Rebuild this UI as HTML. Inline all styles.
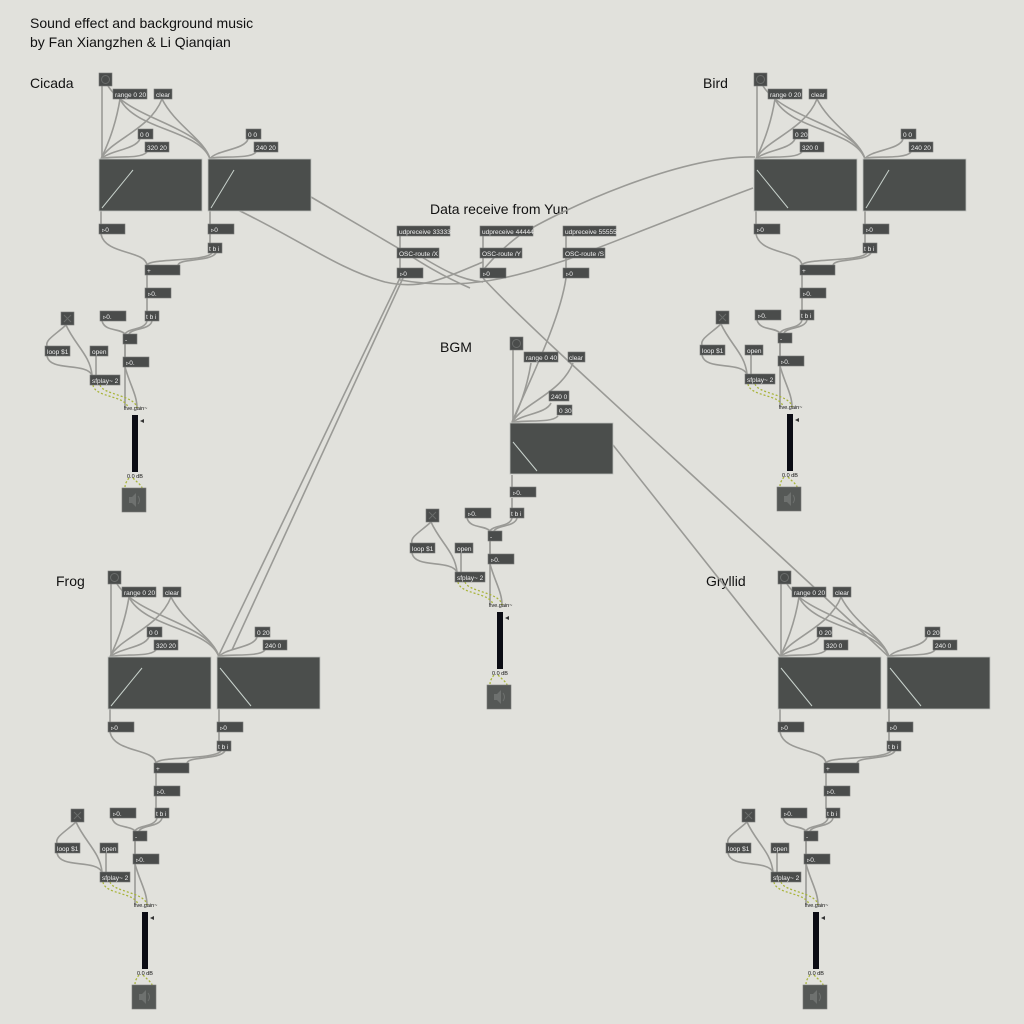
<!DOCTYPE html>
<html><head><meta charset="utf-8"><style>
html,body{margin:0;padding:0;background:#e1e1dc;}
svg{display:block}
.b{fill:#4a4c4b;stroke:#7a7c7b;stroke-width:.6}
.s{fill:#4b4e4c;stroke:#bfc1bd;stroke-width:.8}
.t{font-family:"Liberation Sans",sans-serif;font-size:6.5px;fill:#f0f0f0}
.sm{font-family:"Liberation Sans",sans-serif;font-size:5.5px;fill:#111}
.lab{font-family:"Liberation Sans",sans-serif;font-size:14px;fill:#111}
.c{fill:none;stroke:#9a9a96;stroke-width:1.6}
.d{fill:none;stroke:#a8b43a;stroke-width:1.3;stroke-dasharray:2 2}
.sl{stroke:#c8d2cc;stroke-width:1}
</style></head><body>
<svg width="1024" height="1024" viewBox="0 0 1024 1024" xmlns="http://www.w3.org/2000/svg">
<defs>
<g id="up1">
<path class="c" d="M102 86 V159"/>
<path class="c" d="M120 99 C115 130 105 150 101 159"/>
<path class="c" d="M162 99 C150 130 110 140 101 159"/>
<path class="c" d="M140 139 C135 150 110 150 101 159"/>
<path class="c" d="M147 152 C140 160 110 155 101 159"/>
<path class="c" d="M101 211 V224"/>
</g>
<g id="up2">
<path class="c" d="M108 86 C130 120 200 125 210 159"/>
<path class="c" d="M120 99 C135 130 200 130 210 159"/>
<path class="c" d="M162 99 C175 125 205 140 210 159"/>
<path class="c" d="M248 139 C245 150 215 150 210 159"/>
<path class="c" d="M256 152 C250 160 215 155 210 159"/>
<path class="c" d="M210 211 V243"/>
<path class="c" d="M101 234 C105 255 145 250 147 265"/>
<path class="c" d="M212 253 C205 262 150 258 147 265"/>
<path class="c" d="M216 253 C210 262 180 258 178 265"/>
<path class="c" d="M147 275 V311"/>
</g>
<g id="lo">
<path class="c" d="M147 321 C145 330 128 328 125 334"/>
<path class="c" d="M152 321 C150 330 132 328 129 334"/>
<path class="c" d="M102 321 C105 332 120 328 125 334"/>
<path class="c" d="M125 344 V357"/>
<path class="c" d="M125 344 V408"/>
<path class="c" d="M125 367 C130 385 137 395 137 408"/>
<path class="c" d="M66 325 C55 335 45 340 47 346"/>
<path class="c" d="M66 325 C75 345 90 355 92 375"/>
<path class="c" d="M47 356 C50 372 85 362 92 375"/>
<path class="c" d="M96 356 V375"/>
<path class="d" d="M93 385 C95 398 126 395 128 408"/>
<path class="d" d="M100 385 C103 395 135 395 137 408"/>
<path class="d" d="M129 478 C125 483 125 486 125 488"/>
<path class="d" d="M133 478 C138 483 142 486 142 488"/>
</g>
</defs>

<text class="lab" x="30" y="28">Sound effect and background music</text>
<text class="lab" x="30" y="47">by Fan Xiangzhen &amp; Li Qianqian</text>
<text class="lab" x="30" y="88">Cicada</text>
<text class="lab" x="703" y="88">Bird</text>
<text class="lab" x="56" y="586">Frog</text>
<text class="lab" x="706" y="586">Gryllid</text>
<text class="lab" x="440" y="352">BGM</text>
<text class="lab" x="430" y="214">Data receive from Yun</text>

<use href="#up1"/><use href="#up2"/><use href="#lo"/>
<use href="#up1" transform="translate(655,0)"/><use href="#up2" transform="translate(655,0)"/><use href="#lo" transform="translate(655,-1)"/>
<use href="#up1" transform="translate(9,498)"/><use href="#up2" transform="translate(9,498)"/><use href="#lo" transform="translate(10,497)"/>
<use href="#up1" transform="translate(679,498)"/><use href="#up2" transform="translate(679,498)"/><use href="#lo" transform="translate(681,497)"/>
<use href="#up1" transform="translate(411,264)"/><use href="#lo" transform="translate(365,197)"/>
<path class="c" d="M512 498 V508"/>

<path class="c" d="M400 236 V248 M483 236 V248 M566 236 V248 M400 258 V268 M483 258 V268 M566 258 V268"/>
<path class="c" d="M311 197 L398 248 C420 262 440 275 470 288"/>
<path class="c" d="M238 210 C300 240 340 270 385 282 C420 290 440 280 483 262"/>
<path class="c" d="M755 157 C680 155 560 210 520 235 C500 250 490 262 483 270"/>
<path class="c" d="M753 188 C680 215 620 240 566 260 C520 275 470 292 400 280"/>
<path class="c" d="M420 256 C440 268 460 280 483 282"/>
<path class="c" d="M400 278 L218 657"/>
<path class="c" d="M403 278 L232 650"/>
<path class="c" d="M483 278 C530 330 700 480 889 657"/>
<path class="c" d="M613 445 L781 657"/>
<path class="c" d="M566 278 C560 320 530 380 512 422"/>

<rect class="b" x="397" y="226" width="53" height="10"/><text class="t" x="399" y="234">udpreceive 33333</text>
<rect class="b" x="480" y="226" width="53" height="10"/><text class="t" x="482" y="234">udpreceive 44444</text>
<rect class="b" x="563" y="226" width="53" height="10"/><text class="t" x="565" y="234">udpreceive 55555</text>
<rect class="b" x="397" y="248" width="42" height="10"/><text class="t" x="399" y="256">OSC-route /X</text>
<rect class="b" x="480" y="248" width="42" height="10"/><text class="t" x="482" y="256">OSC-route /Y</text>
<rect class="b" x="563" y="248" width="42" height="10"/><text class="t" x="565" y="256">OSC-route /S</text>
<rect class="b" x="397" y="268" width="26" height="10"/><text class="t" x="400" y="276">▹0</text>
<rect class="b" x="480" y="268" width="26" height="10"/><text class="t" x="483" y="276">▹0</text>
<rect class="b" x="563" y="268" width="26" height="10"/><text class="t" x="566" y="276">▹0</text>

<g>
<rect class="b" x="99" y="73" width="13" height="13"/><circle cx="105.5" cy="79.5" r="4" fill="none" stroke="#6a6c6b"/>
<rect class="b" x="113" y="89" width="34" height="10"/><text class="t" x="115" y="97">range 0 20</text>
<rect class="b" x="154" y="89" width="18" height="10"/><text class="t" x="156" y="97">clear</text>
<rect class="b" x="138" y="129" width="15" height="10"/><text class="t" x="140" y="137">0 0</text>
<rect class="b" x="145" y="142" width="24" height="10"/><text class="t" x="147" y="150">320 20</text>
<rect class="b" x="246" y="129" width="15" height="10"/><text class="t" x="248" y="137">0 0</text>
<rect class="b" x="254" y="142" width="24" height="10"/><text class="t" x="256" y="150">240 20</text>
<rect class="s" x="99" y="159" width="103" height="52"/><rect class="s" x="208" y="159" width="103" height="52"/>
<line class="sl" x1="102" y1="208" x2="133" y2="170"/><line class="sl" x1="211" y1="208" x2="234" y2="170"/>
<rect class="b" x="99" y="224" width="26" height="10"/><text class="t" x="102" y="232">▹0</text>
<rect class="b" x="208" y="224" width="26" height="10"/><text class="t" x="211" y="232">▹0</text>
<rect class="b" x="208" y="243" width="14" height="10"/><text class="t" x="209" y="251">t b i</text>
<rect class="b" x="145" y="265" width="35" height="10"/><text class="t" x="147" y="273">+</text>
<rect class="b" x="145" y="288" width="26" height="10"/><text class="t" x="148" y="296">▹0.</text>
</g>
<g transform="translate(655,0)">
<rect class="b" x="99" y="73" width="13" height="13"/><circle cx="105.5" cy="79.5" r="4" fill="none" stroke="#6a6c6b"/>
<rect class="b" x="113" y="89" width="34" height="10"/><text class="t" x="115" y="97">range 0 20</text>
<rect class="b" x="154" y="89" width="18" height="10"/><text class="t" x="156" y="97">clear</text>
<rect class="b" x="138" y="129" width="15" height="10"/><text class="t" x="140" y="137">0 20</text>
<rect class="b" x="145" y="142" width="24" height="10"/><text class="t" x="147" y="150">320 0</text>
<rect class="b" x="246" y="129" width="15" height="10"/><text class="t" x="248" y="137">0 0</text>
<rect class="b" x="254" y="142" width="24" height="10"/><text class="t" x="256" y="150">240 20</text>
<rect class="s" x="99" y="159" width="103" height="52"/><rect class="s" x="208" y="159" width="103" height="52"/>
<line class="sl" x1="102" y1="170" x2="133" y2="208"/><line class="sl" x1="211" y1="208" x2="234" y2="170"/>
<rect class="b" x="99" y="224" width="26" height="10"/><text class="t" x="102" y="232">▹0</text>
<rect class="b" x="208" y="224" width="26" height="10"/><text class="t" x="211" y="232">▹0</text>
<rect class="b" x="208" y="243" width="14" height="10"/><text class="t" x="209" y="251">t b i</text>
<rect class="b" x="145" y="265" width="35" height="10"/><text class="t" x="147" y="273">+</text>
<rect class="b" x="145" y="288" width="26" height="10"/><text class="t" x="148" y="296">▹0.</text>
</g>
<g transform="translate(9,498)">
<rect class="b" x="99" y="73" width="13" height="13"/><circle cx="105.5" cy="79.5" r="4" fill="none" stroke="#6a6c6b"/>
<rect class="b" x="113" y="89" width="34" height="10"/><text class="t" x="115" y="97">range 0 20</text>
<rect class="b" x="154" y="89" width="18" height="10"/><text class="t" x="156" y="97">clear</text>
<rect class="b" x="138" y="129" width="15" height="10"/><text class="t" x="140" y="137">0 0</text>
<rect class="b" x="145" y="142" width="24" height="10"/><text class="t" x="147" y="150">320 20</text>
<rect class="b" x="246" y="129" width="15" height="10"/><text class="t" x="248" y="137">0 20</text>
<rect class="b" x="254" y="142" width="24" height="10"/><text class="t" x="256" y="150">240 0</text>
<rect class="s" x="99" y="159" width="103" height="52"/><rect class="s" x="208" y="159" width="103" height="52"/>
<line class="sl" x1="102" y1="208" x2="133" y2="170"/><line class="sl" x1="211" y1="170" x2="242" y2="208"/>
<rect class="b" x="99" y="224" width="26" height="10"/><text class="t" x="102" y="232">▹0</text>
<rect class="b" x="208" y="224" width="26" height="10"/><text class="t" x="211" y="232">▹0</text>
<rect class="b" x="208" y="243" width="14" height="10"/><text class="t" x="209" y="251">t b i</text>
<rect class="b" x="145" y="265" width="35" height="10"/><text class="t" x="147" y="273">+</text>
<rect class="b" x="145" y="288" width="26" height="10"/><text class="t" x="148" y="296">▹0.</text>
</g>
<g transform="translate(679,498)">
<rect class="b" x="99" y="73" width="13" height="13"/><circle cx="105.5" cy="79.5" r="4" fill="none" stroke="#6a6c6b"/>
<rect class="b" x="113" y="89" width="34" height="10"/><text class="t" x="115" y="97">range 0 20</text>
<rect class="b" x="154" y="89" width="18" height="10"/><text class="t" x="156" y="97">clear</text>
<rect class="b" x="138" y="129" width="15" height="10"/><text class="t" x="140" y="137">0 20</text>
<rect class="b" x="145" y="142" width="24" height="10"/><text class="t" x="147" y="150">320 0</text>
<rect class="b" x="246" y="129" width="15" height="10"/><text class="t" x="248" y="137">0 20</text>
<rect class="b" x="254" y="142" width="24" height="10"/><text class="t" x="256" y="150">240 0</text>
<rect class="s" x="99" y="159" width="103" height="52"/><rect class="s" x="208" y="159" width="103" height="52"/>
<line class="sl" x1="102" y1="170" x2="133" y2="208"/><line class="sl" x1="211" y1="170" x2="242" y2="208"/>
<rect class="b" x="99" y="224" width="26" height="10"/><text class="t" x="102" y="232">▹0</text>
<rect class="b" x="208" y="224" width="26" height="10"/><text class="t" x="211" y="232">▹0</text>
<rect class="b" x="208" y="243" width="14" height="10"/><text class="t" x="209" y="251">t b i</text>
<rect class="b" x="145" y="265" width="35" height="10"/><text class="t" x="147" y="273">+</text>
<rect class="b" x="145" y="288" width="26" height="10"/><text class="t" x="148" y="296">▹0.</text>
</g>
<g transform="translate(411,264)">
<rect class="b" x="99" y="73" width="13" height="13"/><circle cx="105.5" cy="79.5" r="4" fill="none" stroke="#6a6c6b"/>
<rect class="b" x="113" y="88" width="34" height="10"/><text class="t" x="115" y="96">range 0 40</text>
<rect class="b" x="157" y="88" width="17" height="10"/><text class="t" x="158" y="96">clear</text>
<rect class="b" x="138" y="127" width="20" height="10"/><text class="t" x="140" y="135">240 0</text>
<rect class="b" x="146" y="141" width="15" height="10"/><text class="t" x="148" y="149">0 30</text>
<rect class="s" x="99" y="159" width="103" height="51"/>
<line class="sl" x1="102" y1="178" x2="126" y2="207"/>
<rect class="b" x="99" y="223" width="26" height="10"/><text class="t" x="102" y="231">▹0.</text>
</g>

<g>
<rect class="b" x="145" y="311" width="14" height="10"/><text class="t" x="146" y="319">t b i</text>
<rect class="b" x="61" y="312" width="13" height="13"/><path d="M64 315 L71 322 M71 315 L64 322" stroke="#6a6c6b"/>
<rect class="b" x="100" y="311" width="26" height="10"/><text class="t" x="103" y="319">▹0.</text>
<rect class="b" x="123" y="334" width="14" height="10"/><text class="t" x="125" y="342">-</text>
<rect class="b" x="123" y="357" width="26" height="10"/><text class="t" x="126" y="365">▹0.</text>
<rect class="b" x="45" y="346" width="25" height="10"/><text class="t" x="47" y="354">loop $1</text>
<rect class="b" x="90" y="346" width="18" height="10"/><text class="t" x="92" y="354">open</text>
<rect class="b" x="90" y="375" width="30" height="10"/><text class="t" x="92" y="383">sfplay~ 2</text>
<text class="sm" x="124" y="410">live.gain~</text>
<rect x="132" y="415" width="6" height="57" fill="#0b0c14"/>
<path d="M140 421 l4 -2 v4z" fill="#333"/>
<text class="sm" x="127" y="478">0.0 dB</text>
<rect x="122" y="488" width="24" height="24" fill="#555856" stroke="#7a7c7b" stroke-width=".6"/>
<path d="M129 497 h3 l4 -4 v14 l-4 -4 h-3z" fill="#6e716f"/><path d="M138 496 q3 4 0 8" stroke="#6e716f" fill="none"/>
</g>
<g transform="translate(655,-1)">
<rect class="b" x="145" y="311" width="14" height="10"/><text class="t" x="146" y="319">t b i</text>
<rect class="b" x="61" y="312" width="13" height="13"/><path d="M64 315 L71 322 M71 315 L64 322" stroke="#6a6c6b"/>
<rect class="b" x="100" y="311" width="26" height="10"/><text class="t" x="103" y="319">▹0.</text>
<rect class="b" x="123" y="334" width="14" height="10"/><text class="t" x="125" y="342">-</text>
<rect class="b" x="123" y="357" width="26" height="10"/><text class="t" x="126" y="365">▹0.</text>
<rect class="b" x="45" y="346" width="25" height="10"/><text class="t" x="47" y="354">loop $1</text>
<rect class="b" x="90" y="346" width="18" height="10"/><text class="t" x="92" y="354">open</text>
<rect class="b" x="90" y="375" width="30" height="10"/><text class="t" x="92" y="383">sfplay~ 2</text>
<text class="sm" x="124" y="410">live.gain~</text>
<rect x="132" y="415" width="6" height="57" fill="#0b0c14"/>
<path d="M140 421 l4 -2 v4z" fill="#333"/>
<text class="sm" x="127" y="478">0.0 dB</text>
<rect x="122" y="488" width="24" height="24" fill="#555856" stroke="#7a7c7b" stroke-width=".6"/>
<path d="M129 497 h3 l4 -4 v14 l-4 -4 h-3z" fill="#6e716f"/><path d="M138 496 q3 4 0 8" stroke="#6e716f" fill="none"/>
</g>
<g transform="translate(10,497)">
<rect class="b" x="145" y="311" width="14" height="10"/><text class="t" x="146" y="319">t b i</text>
<rect class="b" x="61" y="312" width="13" height="13"/><path d="M64 315 L71 322 M71 315 L64 322" stroke="#6a6c6b"/>
<rect class="b" x="100" y="311" width="26" height="10"/><text class="t" x="103" y="319">▹0.</text>
<rect class="b" x="123" y="334" width="14" height="10"/><text class="t" x="125" y="342">-</text>
<rect class="b" x="123" y="357" width="26" height="10"/><text class="t" x="126" y="365">▹0.</text>
<rect class="b" x="45" y="346" width="25" height="10"/><text class="t" x="47" y="354">loop $1</text>
<rect class="b" x="90" y="346" width="18" height="10"/><text class="t" x="92" y="354">open</text>
<rect class="b" x="90" y="375" width="30" height="10"/><text class="t" x="92" y="383">sfplay~ 2</text>
<text class="sm" x="124" y="410">live.gain~</text>
<rect x="132" y="415" width="6" height="57" fill="#0b0c14"/>
<path d="M140 421 l4 -2 v4z" fill="#333"/>
<text class="sm" x="127" y="478">0.0 dB</text>
<rect x="122" y="488" width="24" height="24" fill="#555856" stroke="#7a7c7b" stroke-width=".6"/>
<path d="M129 497 h3 l4 -4 v14 l-4 -4 h-3z" fill="#6e716f"/><path d="M138 496 q3 4 0 8" stroke="#6e716f" fill="none"/>
</g>
<g transform="translate(681,497)">
<rect class="b" x="145" y="311" width="14" height="10"/><text class="t" x="146" y="319">t b i</text>
<rect class="b" x="61" y="312" width="13" height="13"/><path d="M64 315 L71 322 M71 315 L64 322" stroke="#6a6c6b"/>
<rect class="b" x="100" y="311" width="26" height="10"/><text class="t" x="103" y="319">▹0.</text>
<rect class="b" x="123" y="334" width="14" height="10"/><text class="t" x="125" y="342">-</text>
<rect class="b" x="123" y="357" width="26" height="10"/><text class="t" x="126" y="365">▹0.</text>
<rect class="b" x="45" y="346" width="25" height="10"/><text class="t" x="47" y="354">loop $1</text>
<rect class="b" x="90" y="346" width="18" height="10"/><text class="t" x="92" y="354">open</text>
<rect class="b" x="90" y="375" width="30" height="10"/><text class="t" x="92" y="383">sfplay~ 2</text>
<text class="sm" x="124" y="410">live.gain~</text>
<rect x="132" y="415" width="6" height="57" fill="#0b0c14"/>
<path d="M140 421 l4 -2 v4z" fill="#333"/>
<text class="sm" x="127" y="478">0.0 dB</text>
<rect x="122" y="488" width="24" height="24" fill="#555856" stroke="#7a7c7b" stroke-width=".6"/>
<path d="M129 497 h3 l4 -4 v14 l-4 -4 h-3z" fill="#6e716f"/><path d="M138 496 q3 4 0 8" stroke="#6e716f" fill="none"/>
</g>
<g transform="translate(365,197)">
<rect class="b" x="145" y="311" width="14" height="10"/><text class="t" x="146" y="319">t b i</text>
<rect class="b" x="61" y="312" width="13" height="13"/><path d="M64 315 L71 322 M71 315 L64 322" stroke="#6a6c6b"/>
<rect class="b" x="100" y="311" width="26" height="10"/><text class="t" x="103" y="319">▹0.</text>
<rect class="b" x="123" y="334" width="14" height="10"/><text class="t" x="125" y="342">-</text>
<rect class="b" x="123" y="357" width="26" height="10"/><text class="t" x="126" y="365">▹0.</text>
<rect class="b" x="45" y="346" width="25" height="10"/><text class="t" x="47" y="354">loop $1</text>
<rect class="b" x="90" y="346" width="18" height="10"/><text class="t" x="92" y="354">open</text>
<rect class="b" x="90" y="375" width="30" height="10"/><text class="t" x="92" y="383">sfplay~ 2</text>
<text class="sm" x="124" y="410">live.gain~</text>
<rect x="132" y="415" width="6" height="57" fill="#0b0c14"/>
<path d="M140 421 l4 -2 v4z" fill="#333"/>
<text class="sm" x="127" y="478">0.0 dB</text>
<rect x="122" y="488" width="24" height="24" fill="#555856" stroke="#7a7c7b" stroke-width=".6"/>
<path d="M129 497 h3 l4 -4 v14 l-4 -4 h-3z" fill="#6e716f"/><path d="M138 496 q3 4 0 8" stroke="#6e716f" fill="none"/>
</g>
</svg>
</body></html>
